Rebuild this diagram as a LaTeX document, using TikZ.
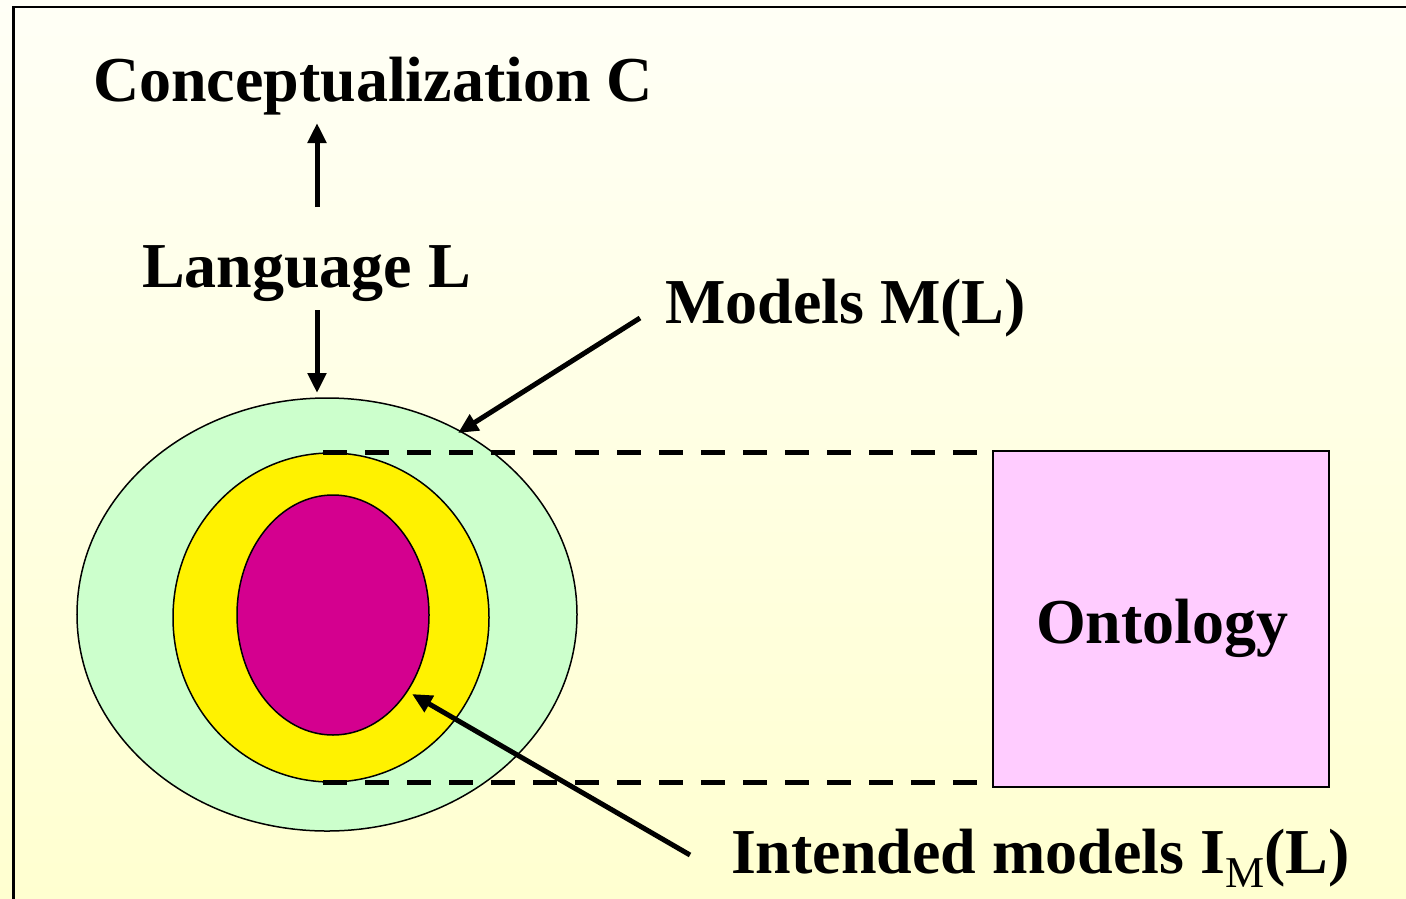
\documentclass[tikz,border=0pt]{standalone}
\usepackage{fontspec}
\setmainfont{Liberation Serif}
\usetikzlibrary{arrows.meta,shapes.geometric}
\definecolor{bgtop}{RGB}{255,255,246}
\definecolor{bgbot}{RGB}{255,255,208}
\definecolor{mgreen}{RGB}{204,255,204}
\definecolor{mmag}{RGB}{212,0,143}
\definecolor{mpink}{RGB}{255,204,255}
\begin{document}
\begin{tikzpicture}[x=1bp,y=-1bp,
 lbl/.style={font=\bfseries\fontsize{64bp}{72bp}\selectfont, inner sep=0pt, outer sep=0pt, anchor=base west},
 ell/.style={ellipse, draw, line width=1.5bp, inner sep=0pt, outer sep=0pt},
 arr/.style={line width=5bp, -{Triangle[length=20bp,width=18bp]}},
 dashline/.style={line width=5bp, dash pattern=on 24bp off 18bp}]
\useasboundingbox (0,0) rectangle (1406,898);
\shade[top color=bgtop,bottom color=bgbot] (0,0) rectangle (1406,898);
\draw[line width=2.5bp] (13.3,899) -- (13.3,7) -- (1407,7);

% ellipses
\node[ell, fill=mgreen, minimum width=500bp, minimum height=433bp] (outer) at (327,614.5) {};
\node[ell, fill=yellow, minimum width=316bp, minimum height=329bp] (mid) at (331,617.5) {};
\node[ell, fill=mmag, minimum width=192bp, minimum height=240bp] (inner) at (333,615) {};

% ontology box
\node[draw, line width=1.5bp, fill=mpink, minimum width=336bp, minimum height=336bp, inner sep=0pt] (onto) at (1161,619) {};
\node[lbl] (ontotext) at (1036,643) {Ontology};

% dashed guide lines
\coordinate (d1s) at (323,452); \coordinate (d1e) at (977,452);
\coordinate (d2s) at (323,782); \coordinate (d2e) at (977,782);
\draw[dashline] (d1s) -- (d1e);
\draw[dashline] (d2s) -- (d2e);

% labels
\node[lbl] (concept) at (93,101) {Conceptualization C};
\node[lbl] (lang) at (142,287) {Language L};
\node[lbl] (models) at (665,323) {Models M(L)};
\node[lbl] (intended) at (731,873) {Intended models I\raisebox{-14bp}{\mdseries\fontsize{44bp}{48bp}\selectfont M}(L)};

% arrows
\coordinate (a1s) at (317,207); \coordinate (a1e) at (317,123);
\coordinate (a2s) at (317,310); \coordinate (a2e) at (317,393);
\coordinate (a3s) at (640,318); \coordinate (a3e) at (458,433);
\coordinate (a4s) at (690,855); \coordinate (a4e) at (412,694);
\draw[arr] (a1s) -- (a1e);
\draw[arr] (a2s) -- (a2e);
\draw[arr] (a3s) -- (a3e);
\draw[arr] (a4s) -- (a4e);
\end{tikzpicture}
\end{document}
